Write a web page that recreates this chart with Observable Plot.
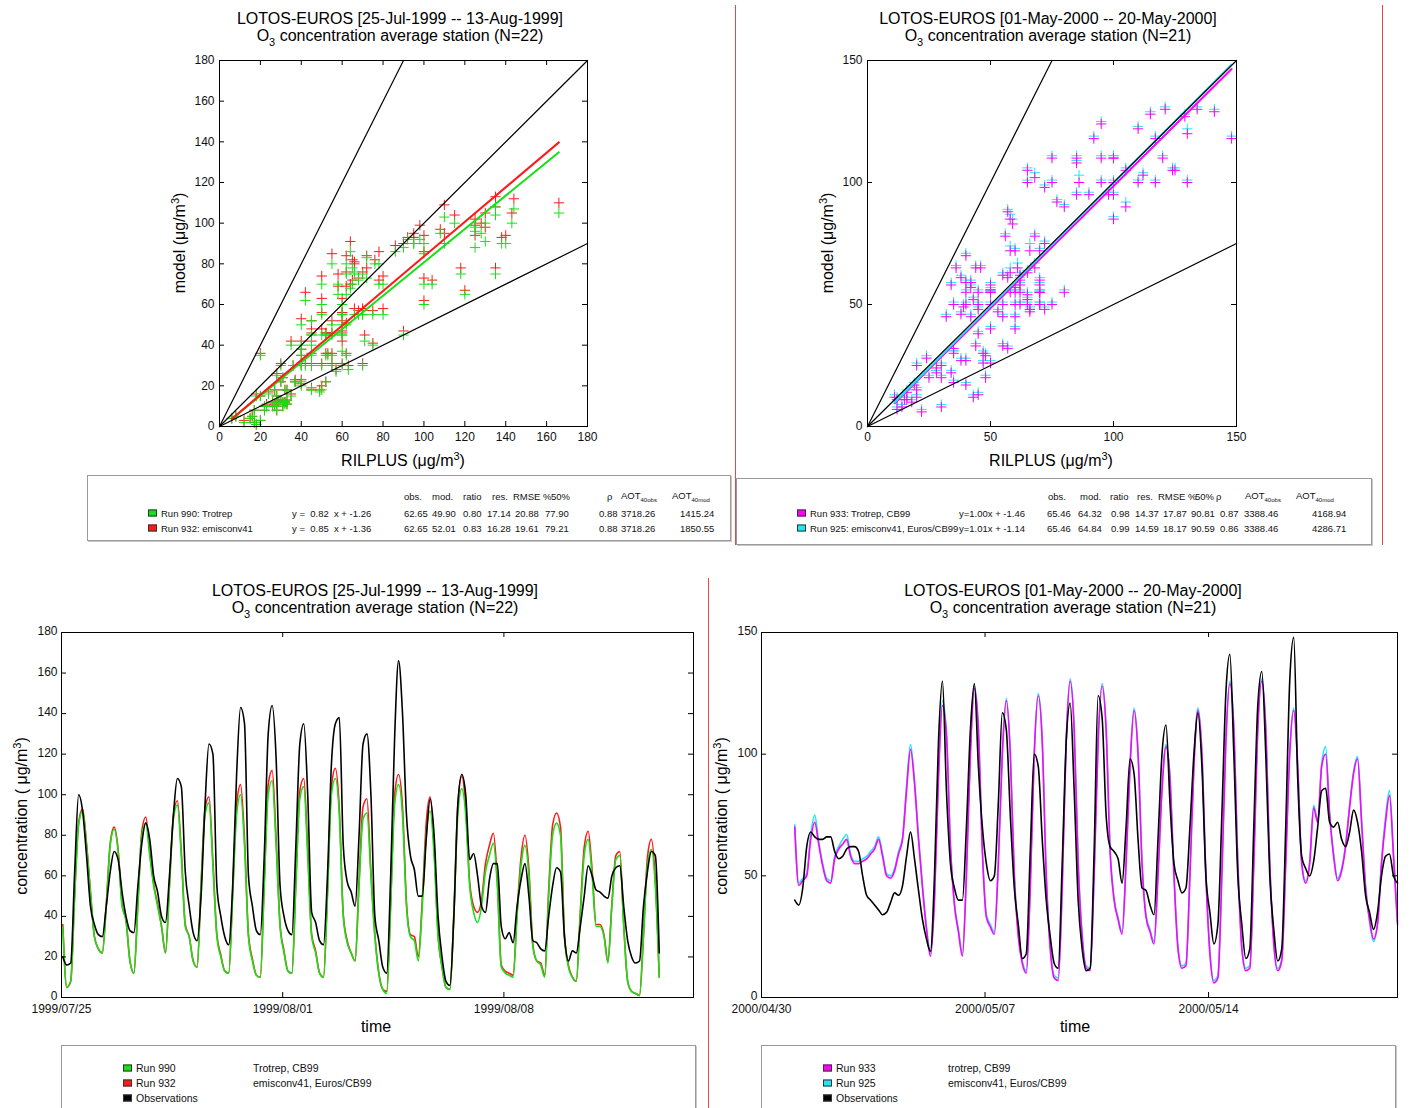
<!DOCTYPE html>
<html>
<head>
<meta charset="utf-8">
<script src="https://cdn.jsdelivr.net/npm/d3@7"></script>
<script src="https://cdn.jsdelivr.net/npm/@observablehq/plot@0.6"></script>
<style>
html,body{margin:0;padding:0;background:#fff;}
#page{position:relative;width:1411px;height:1108px;overflow:hidden;background:#fff;font-family:Arial,"Liberation Sans",Helvetica,sans-serif;color:#000;}
.title{position:absolute;width:600px;text-align:center;font-size:16px;line-height:17px;white-space:nowrap;}
.sub{font-size:11px;position:relative;top:5px;}
.sup{font-size:11px;position:relative;top:-6px;}
.axt{position:absolute;font-size:16px;white-space:nowrap;transform:translate(-50%,-50%);}
.axt.rot{transform:translate(-50%,-50%) rotate(-90deg);}
.leg{position:absolute;border:1px solid #9a9a9a;box-shadow:1px 1px 0 #c8c8c8;background:#fff;box-sizing:border-box;}
.lt{position:absolute;font-size:9.5px;white-space:pre;line-height:11px;transform:translateY(-50%);color:#111;}
.lt .s{font-size:6px;position:relative;top:3px;}
.sw{position:absolute;width:7px;height:5px;border:1px solid #333;transform:translateY(-50%);}
.sep{position:absolute;width:1px;background:#e84848;}
</style>
</head>
<body>
<div id="page"></div>
<script>
// ---------------- DATA ----------------
// sampling hours of each day (values at these hours)
const hoursOfDay = [1, 4, 7, 10, 13, 16, 19, 22];

// Summer 1999: 25-Jul (day 0) .. 12-Aug (day 18)
const julStart = "1999-07-25T00:00:00Z";
const obsJul = [
  [20,16,17,62,100,92,70,45],[36,31,30,45,62,72,68,52],[40,33,32,55,76,86,78,60],
  [52,40,37,60,90,108,104,62],[45,32,28,50,95,125,120,55],[40,30,26,55,110,143,135,60],
  [45,33,31,70,130,144,118,55],[40,33,31,75,125,135,100,42],[37,28,26,60,115,135,138,75],
  [57,52,45,80,125,130,100,40],[28,15,12,60,128,166,140,90],[70,63,50,50,78,98,80,40],
  [20,8,6,40,95,110,100,68],[71,60,45,42,58,66,66,35],[29,32,27,45,58,66,50,28],
  [27,24,23,40,55,64,62,30],[18,23,22,35,50,65,60,53],[52,50,49,60,64,65,45,28],
  [20,17,18,45,62,72,70,22]
];
const run990Jul = [
  [35,5,8,50,85,92,75,52],[30,24,22,45,75,83,72,45],[38,18,12,45,80,86,70,55],
  [45,35,22,55,88,95,70,35],[30,18,15,55,90,96,65,30],[20,13,12,50,90,100,75,30],
  [18,11,10,55,100,107,75,35],[22,13,12,55,98,104,70,30],[22,12,10,50,100,108,90,40],
  [27,22,18,55,88,91,60,30],[12,4,2,45,95,105,90,45],[30,28,18,45,80,92,70,30],
  [15,5,4,40,90,103,90,55],[42,37,45,62,70,76,55,15],[12,11,10,40,65,75,60,25],
  [18,16,10,50,80,86,80,30],[15,10,8,40,70,78,60,35],[35,30,17,45,68,70,35,8],
  [3,2,1,30,65,73,55,10]
];
const run932Jul = [
  [36,5,8,51,86,93,76,52],[30,24,22,46,76,84,73,46],[38,18,12,46,82,89,72,56],
  [46,35,22,56,90,97,72,36],[30,18,15,56,93,99,67,31],[21,13,12,52,95,105,78,31],
  [19,11,10,57,105,112,78,36],[23,13,12,57,102,108,73,31],[23,12,10,52,104,113,93,41],
  [28,22,18,58,94,98,62,31],[12,4,3,47,100,110,94,47],[31,30,20,48,86,99,74,31],
  [15,5,4,42,95,109,94,57],[45,42,48,66,75,81,58,16],[13,12,11,42,69,80,63,26],
  [18,17,11,53,85,91,84,31],[16,10,8,42,74,82,63,36],[36,31,18,46,70,72,36,8],
  [3,2,1,31,69,78,58,10]
];

// Spring 2000: 1-May (first row) .. 19-May
const mayStart = "2000-05-01T00:00:00Z";
const obsMay = [
  [40,38,45,62,68,66,65,65],[66,66,60,57,58,61,62,62],[60,50,42,40,38,36,34,35],
  [39,43,42,46,58,68,57,44],[32,24,19,50,105,130,85,55],[45,40,40,70,110,129,95,70],
  [55,48,50,80,117,110,75,45],[30,16,18,60,100,95,65,40],[25,14,12,55,105,121,85,40],
  [20,11,12,60,124,115,75,62],[60,57,47,70,98,92,65,45],[44,38,34,65,100,112,80,55],
  [48,43,45,70,100,117,95,50],[35,22,30,75,125,141,100,50],[30,16,20,70,120,134,100,50],
  [28,15,20,70,130,148,90,58],[53,50,56,70,85,86,72,70],[72,65,62,68,77,72,60,42],
  [35,28,35,50,58,59,50,47]
];
const run933May = [
  [70,46,48,50,65,72,63,54],[48,47,57,61,63,65,58,55],[55,56,57,59,61,65,58,50],
  [49,52,59,65,85,102,88,65],[45,28,17,40,90,120,108,62],[38,27,17,50,100,127,110,60],
  [33,29,26,55,100,122,100,50],[25,14,10,45,100,124,105,50],[20,8,7,45,105,130,110,55],
  [25,12,11,50,105,128,110,60],[40,32,26,55,95,118,100,55],[33,27,22,50,85,103,90,50],
  [20,12,13,50,95,118,100,50],[18,6,8,50,105,129,110,55],[20,11,12,55,110,130,110,55],
  [22,11,15,55,100,118,95,55],[47,55,78,72,95,100,75,58],[48,52,62,78,92,98,72,45],
  [32,24,30,55,72,83,58,30]
];
const run925May = [
  [71,47,49,51,67,75,64,55],[49,48,58,62,65,67,59,56],[56,57,58,60,62,66,59,51],
  [50,53,60,66,87,104,89,66],[46,29,18,41,92,122,109,63],[39,28,18,51,101,128,111,61],
  [34,30,27,56,101,123,101,51],[26,15,11,46,101,125,106,51],[21,9,8,46,106,131,111,56],
  [26,13,12,51,106,129,111,61],[41,33,27,56,96,119,101,56],[34,28,23,51,86,104,91,51],
  [21,13,14,51,96,119,101,51],[19,7,9,51,106,130,111,56],[21,12,13,56,111,131,111,56],
  [23,12,16,56,101,119,96,56],[48,56,79,73,96,103,76,59],[49,53,63,79,93,99,73,46],
  [31,23,31,56,74,85,59,31]
];

// statistics tables (legend)
const statHead = ["obs.","mod.","ratio","res.","RMSE %","50%","ρ"];
const runsJul = ["Run 990: Trotrep","Run 932: emisconv41"];
const slopeJul = [0.82, 0.85], interceptJul = [-1.26, -1.36];
const statsJul = [
  [62.65,49.90,0.80,17.14,20.88,77.90,0.88,3718.26,1415.24],
  [62.65,52.01,0.83,16.28,19.61,79.21,0.88,3718.26,1850.55]
];
const runsMay = ["Run 933: Trotrep, CB99","Run 925: emisconv41, Euros/CB99"];
const slopeMay = [1.00, 1.01], interceptMay = [-1.46, -1.14];
const statsMay = [
  [65.46,64.32,0.98,14.37,17.87,90.81,0.87,3388.46,4168.94],
  [65.46,64.84,0.99,14.59,18.17,90.59,0.86,3388.46,4286.71]
];
const refSlopes = [2, 1, 0.5];
const ticksJulScatter = [0,20,40,60,80,100,120,140,160,180];
const ticksMayScatter = [0,50,100,150];
const ticksJulConc = [0,20,40,60,80,100,120,140,160,180];
const ticksMayConc = [0,50,100,150];
const dateTicksJul = ["1999-07-25","1999-08-01","1999-08-08"];
const dateTicksMay = ["2000-04-30","2000-05-07","2000-05-14"];
const bottomRunsJul = [["Run 990","Trotrep, CB99"],["Run 932","emisconv41, Euros/CB99"],["Observations",""]];
const bottomRunsMay = [["Run 933","trotrep, CB99"],["Run 925","emisconv41, Euros/CB99"],["Observations",""]];

// colours
const C = {green:"#16e016", red:"#ff1a1a", mag:"#ff00ff", cyan:"#20e8f0", black:"#000"};

// ---------------- helpers ----------------
const page = document.getElementById("page");
function add(html, cls, style){const d=document.createElement("div");d.className=cls;d.innerHTML=html;Object.assign(d.style,style||{});page.appendChild(d);return d;}
function place(svg,left,top){const d=document.createElement("div");d.style.position="absolute";d.style.left=left+"px";d.style.top=top+"px";d.appendChild(svg);page.appendChild(d);}
function series(start, rows){const t0=new Date(start).getTime();return rows.flatMap((row,d)=>row.map((v,i)=>({t:new Date(t0+(d*24+hoursOfDay[i])*36e5),v})));}
function pairs(obs, mod){const o=obs.flat(), m=mod.flat();return o.map((x,i)=>({o:x,m:m[i]}));}
const st = {fontFamily:"Arial, 'Liberation Sans', sans-serif", fontSize:"12px", color:"#111", background:"transparent", overflow:"visible"};

function innerTicks(xt, yt, fw, fh){
  return [
    Plot.tickX(xt,{x:d=>d,insetTop:fh-5,stroke:"#000"}),
    Plot.tickX(xt,{x:d=>d,insetBottom:fh-5,stroke:"#000"}),
    Plot.tickY(yt,{y:d=>d,insetRight:fw-5,stroke:"#000"}),
    Plot.tickY(yt,{y:d=>d,insetLeft:fw-5,stroke:"#000"})
  ];
}

function scatterPlot(o){
  const {pA,pB,colA,colB,slopes,inters,cols,max,ticks,ml,mr} = o;
  const W=470,H=430,mt=10,mb=54;
  const fw=W-ml-mr, fh=H-mt-mb;
  const allObs = pA.map(d=>d.o);
  const x0=d3.min(allObs), x1=d3.max(allObs);
  const reg = slopes.flatMap((s,i)=>[{x:x0,y:s*x0+inters[i],k:i},{x:x1,y:s*x1+inters[i],k:i}]);
  const ref = refSlopes.flatMap(s=>{const xe=Math.min(max,max/s);return [{x:0,y:0,s},{x:xe,y:s*xe,s}];});
  return Plot.plot({
    width:W,height:H,marginLeft:ml,marginRight:mr,marginTop:mt,marginBottom:mb,
    style:st,
    x:{domain:[0,max]}, y:{domain:[0,max]},
    marks:[
      Plot.dot(pB,{x:"o",y:"m",symbol:"plus",r:3.4,stroke:colB,fill:"none",strokeWidth:1}),
      Plot.dot(pA,{x:"o",y:"m",symbol:"plus",r:3.4,stroke:colA,fill:"none",strokeWidth:1}),
      Plot.line(reg,{x:"x",y:"y",z:"k",stroke:d=>cols[d.k],strokeWidth:2}),
      Plot.line(ref,{x:"x",y:"y",z:"s",stroke:"#000",strokeWidth:1.2}),
      Plot.frame({stroke:"#000"}),
      ...innerTicks(ticks,ticks,fw,fh),
      Plot.axisX(ticks,{anchor:"bottom",tickSize:0,tickPadding:6,label:null}),
      Plot.axisY(ticks,{anchor:"left",tickSize:0,tickPadding:5,label:null})
    ]
  });
}

function timePlot(o){
  const {W,ml,mr,domain,ymax,yticks,dticks,lines} = o;
  const H=400,mt=12,mb=23, fw=W-ml-mr, fh=H-mt-mb;
  const dt = dticks.map(s=>new Date(s+"T00:00:00Z"));
  return Plot.plot({
    width:W,height:H,marginLeft:ml,marginRight:mr,marginTop:mt,marginBottom:mb,
    style:st,
    x:{type:"utc",domain:domain.map(s=>new Date(s))}, y:{domain:[0,ymax]},
    marks:[
      ...lines.map(([data,col])=>Plot.line(data,{x:"t",y:"v",stroke:col,strokeWidth:1.6,curve:"monotone-x"})),
      Plot.frame({stroke:"#000"}),
      ...innerTicks(dt,yticks,fw,fh),
      Plot.axisX(dt,{anchor:"bottom",tickSize:0,tickPadding:7,label:null,tickFormat:d3.utcFormat("%Y/%m/%d")}),
      Plot.axisY(yticks,{anchor:"left",tickSize:0,tickPadding:4,label:null,dy:-1})
    ]
  });
}

// ---------------- PLOTS ----------------
place(scatterPlot({pA:pairs(obsJul,run990Jul),pB:pairs(obsJul,run932Jul),colA:C.green,colB:C.red,
  slopes:slopeJul,inters:interceptJul,cols:[C.green,C.red],max:180,ticks:ticksJulScatter,ml:69,mr:33}),150,50);
place(scatterPlot({pA:pairs(obsMay,run933May),pB:pairs(obsMay,run925May),colA:C.mag,colB:C.cyan,
  slopes:slopeMay,inters:interceptMay,cols:[C.mag,C.cyan],max:150,ticks:ticksMayScatter,ml:67,mr:34}),800,50);

place(timePlot({W:705,ml:61,mr:12,domain:["1999-07-25T00:00:00Z","1999-08-14T00:00:00Z"],ymax:180,
  yticks:ticksJulConc,dticks:dateTicksJul,
  lines:[[series(julStart,run932Jul),C.red],[series(julStart,run990Jul),C.green],[series(julStart,obsJul),C.black]]}),0,620);
place(timePlot({W:696,ml:46,mr:14,domain:["2000-04-30T00:00:00Z","2000-05-19T22:00:00Z"],ymax:150,
  yticks:ticksMayConc,dticks:dateTicksMay,
  lines:[[series(mayStart,run925May),C.cyan],[series(mayStart,run933May),C.mag],[series(mayStart,obsMay),C.black]]}),715,620);

// ---------------- TEXT ----------------
const t1a="LOTOS-EUROS [25-Jul-1999 -- 13-Aug-1999]", t1b="LOTOS-EUROS [01-May-2000 -- 20-May-2000]";
const o3 = n=>`O<span class="sub">3</span> concentration average station (N=${n})`;
function title(cx,top,l1,l2){add(l1+"<br>"+l2,"title",{left:(cx-300)+"px",top:top+"px"});}
title(400,10,t1a,o3(22)); title(1048,10,t1b,o3(21));
title(375,582,t1a,o3(22)); title(1073,582,t1b,o3(21));

const ug = `(μg/m<span class="sup">3</span>)`;
add("RILPLUS "+ug,"axt",{left:"403px",top:"461px"});
add("model "+ug,"axt rot",{left:"180px",top:"243px"});
add("RILPLUS "+ug,"axt",{left:"1051px",top:"461px"});
add("model "+ug,"axt rot",{left:"828px",top:"243px"});
add("time","axt",{left:"376px",top:"1027px"});
add("time","axt",{left:"1075px",top:"1027px"});
add(`concentration ( μg/m<span class="sup">3</span>)`,"axt rot",{left:"22px",top:"816px"});
add(`concentration ( μg/m<span class="sup">3</span>)`,"axt rot",{left:"722px",top:"816px"});

// separators
add("","sep",{left:"735px",top:"5px",height:"540px"});
add("","sep",{left:"1382px",top:"5px",height:"540px"});
add("","sep",{left:"708px",top:"578px",height:"530px"});

// top legends
function statLegend(box, sq, lab, regx, regFmt, headX, aotX, numX, runs, slopes, inters, stats, cols){
  add("","leg",{left:box[0]+"px",top:box[1]+"px",width:box[2]+"px",height:box[3]+"px"});
  const yH=496, yR=[513,528];
  statHead.forEach((h,i)=>add(h,"lt",{left:headX[i]+"px",top:yH+"px"}));
  add('AOT<span class="s">40obs</span>',"lt",{left:aotX[0]+"px",top:yH+"px"});
  add('AOT<span class="s">40mod</span>',"lt",{left:aotX[1]+"px",top:yH+"px"});
  runs.forEach((r,k)=>{
    add("","sw",{left:sq+"px",top:yR[k]+"px",background:cols[k]});
    add(r,"lt",{left:lab+"px",top:yR[k]+"px"});
    add(regFmt(slopes[k],inters[k]),"lt",{left:regx[k]+"px",top:yR[k]+"px"});
    stats[k].forEach((v,i)=>add(v.toFixed(2),"lt",{left:numX[i]+"px",top:yR[k]+"px"}));
  });
}
statLegend([87,475,644,66],148,161,[292,292],(s,b)=>`y =  ${s.toFixed(2)}  x + ${b.toFixed(2)}`,
  [404,432,463,492,513,551,607],[621,672],[404,432,463,487,515,545,599,621,680],
  runsJul,slopeJul,interceptJul,statsJul,[C.green,C.red]);
statLegend([736,478,636,67],797,810,[959,959],(s,b)=>`y=${s.toFixed(2)}x + ${b.toFixed(2)}`,
  [1048,1080,1110,1137,1158,1195,1216],[1245,1296],[1047,1078,1111,1135,1163,1191,1220,1244,1312],
  runsMay,slopeMay,interceptMay,statsMay,[C.mag,C.cyan]);

// bottom legends
function bottomLegend(left,width,sq,lab,desc,runs,cols){
  add("","leg",{left:left+"px",top:"1045px",width:width+"px",height:"80px"});
  runs.forEach((r,k)=>{
    const y=1068+15*k;
    add("","sw",{left:sq+"px",top:y+"px",background:cols[k]});
    add(r[0],"lt",{left:lab+"px",top:y+"px",fontSize:"10.5px"});
    if(r[1]) add(r[1],"lt",{left:desc+"px",top:y+"px",fontSize:"10.5px"});
  });
}
bottomLegend(61,635,123,136,253,bottomRunsJul,[C.green,C.red,"#000"]);
bottomLegend(761,635,823,836,948,bottomRunsMay,[C.mag,C.cyan,"#000"]);
</script>
</body>
</html>
